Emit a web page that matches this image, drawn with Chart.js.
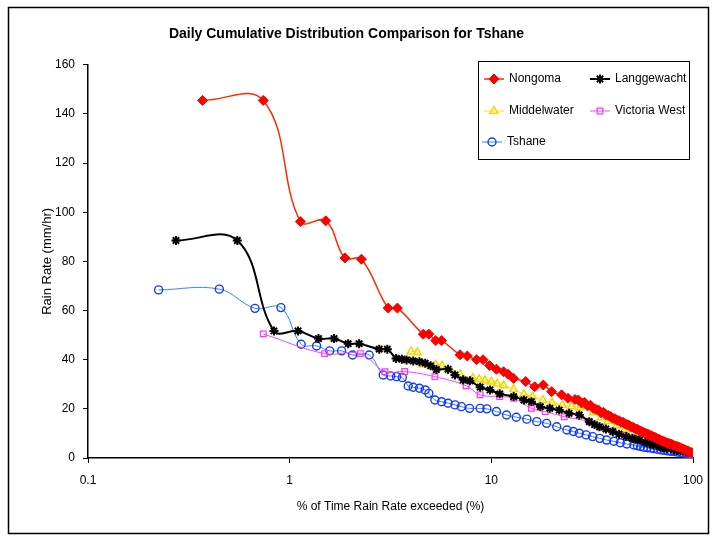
<!DOCTYPE html>
<html>
<head>
<meta charset="utf-8">
<script src="https://cdn.jsdelivr.net/npm/chart.js@4.4.1/dist/chart.umd.min.js"></script>
<style>
  html, body { margin: 0; padding: 0; background: #fff; }
</style>
</head>
<body>
<canvas id="grafik" width="717" height="539"></canvas>
<script>
// values (% of time exceeded, rain rate mm/hr)
const nongomaX = [0.37, 0.74, 1.13, 1.51, 1.88, 2.27, 3.08, 3.42, 4.6, 4.9, 5.3, 5.67, 7.0, 7.6, 8.45, 9.1, 9.8, 10.6, 11.5, 12.1, 12.9, 14.8, 16.4, 18.1, 19.9, 22.3, 24, 26, 27, 28, 29, 30, 31, 32, 33, 34, 35, 36, 37, 38, 39, 40, 41, 42, 43, 44, 45, 46, 47, 48, 49, 50, 51, 52, 53, 54, 55, 56, 57, 58, 59, 60, 61, 62, 63, 64, 65, 66, 67, 68, 69, 70, 71, 72, 73, 74, 75, 76, 77, 78, 79, 80, 82, 84, 86, 88, 90, 92, 94, 96, 98, 100];
const nongomaY = [145.5, 145.5, 96.2, 96.5, 81.4, 80.9, 61, 61, 50.4, 50.4, 47.8, 47.8, 42, 41.5, 40, 40, 37.6, 36.1, 35.1, 34.1, 32.4, 31.1, 29, 29.7, 27, 25.7, 24.3, 23.8, 23.6, 22.4, 22.6, 21.2, 21.5, 20.2, 19.8, 19.5, 18.4, 18.6, 17.6, 17.3, 16.9, 16.2, 16.0, 15.4, 15.2, 14.6, 14.5, 13.9, 13.6, 13.4, 12.8, 12.6, 12.3, 11.8, 11.7, 11.2, 11.0, 10.6, 10.4, 10.1, 9.8, 9.6, 9.3, 9.1, 8.8, 8.5, 8.3, 8.0, 7.7, 7.5, 7.2, 7.0, 6.8, 6.6, 6.4, 6.2, 6.0, 5.9, 5.7, 5.6, 5.4, 5.2, 4.9, 4.6, 4.3, 3.9, 3.6, 3.2, 2.9, 2.5, 2.2, 1.8];

const langX = [0.273, 0.55, 0.836, 1.10, 1.39, 1.66, 1.95, 2.21, 2.78, 3.05, 3.37, 3.6, 3.8, 4.1, 4.4, 4.7, 5.0, 5.34, 6.1, 6.6, 7.25, 7.83, 8.8, 9.84, 11.0, 12.9, 14.5, 15.8, 17.5, 19.5, 21.7, 24.3, 27.3, 30.6, 32.5, 34.4, 37, 40, 43, 46.6, 50, 52, 54.4, 58, 61, 63.5, 68, 71, 74, 80, 83, 86.6, 92, 97];
const langY = [88.5, 88.5, 51.7, 51.7, 48.6, 48.6, 46.5, 46.5, 44.3, 44.3, 40.5, 40.2, 39.9, 39.5, 39.2, 38.6, 37.5, 36, 36.1, 33.8, 31.8, 31.4, 28.8, 27.7, 26.1, 25, 23.6, 22.9, 20.9, 20.2, 19.5, 18.2, 17.5, 14.8, 13.6, 12.7, 11.8, 10.7, 9.7, 8.7, 8, 7.6, 7.3, 6.4, 5.8, 5.3, 4.6, 4.2, 3.9, 3.4, 3.1, 3, 2.5, 2.2];

const middelX = [4.0, 4.3, 4.6, 5.3, 5.7, 6.3, 7.0, 8.1, 8.7, 9.3, 10, 10.7, 11.5, 12.9, 14.5, 16, 18, 20, 22.5, 25, 27.5, 29.6, 32, 35, 38, 42, 46, 50, 55, 60, 66, 72, 78, 84, 90, 96, 99];
const middelY = [43.3, 42.9, 38, 37.9, 37.5, 35.5, 34, 32.5, 32, 31.5, 31, 30.2, 29.5, 28, 26, 25, 23.5, 22.5, 21.5, 21, 20.5, 21.2, 18.5, 16.5, 15, 13.2, 11.8, 10.5, 9.2, 8, 6.7, 5.6, 4.6, 3.7, 3, 2.4, 2];

const victoriaX = [0.74, 1.49, 2.24, 2.97, 3.72, 5.25, 7.5, 8.8, 11, 12.9, 15.8, 18.5, 23, 30.6, 35, 40, 46, 52, 60, 68, 76, 85, 93, 99];
const victoriaY = [50.5, 42.5, 42.5, 35.1, 35.2, 33.1, 29.4, 25.7, 25, 24.3, 20.2, 18.9, 16.8, 14.8, 12.5, 11, 9.3, 7.8, 6.3, 5, 4, 3, 2.2, 1.5];

const tshaneX = [0.224, 0.448, 0.673, 0.905, 1.14, 1.36, 1.58, 1.81, 2.05, 2.48, 2.91, 3.17, 3.39, 3.62, 3.87, 4.1, 4.4, 4.7, 4.9, 5.25, 5.67, 6.1, 6.6, 7.1, 7.8, 8.8, 9.5, 10.6, 11.9, 13.3, 15, 16.8, 18.8, 21.1, 23.7, 25.5, 27.3, 29.5, 31.8, 34.5, 37.3, 40.5, 43.6, 47, 50.9, 53, 55, 57, 59.4, 62, 64, 67, 69.4, 72, 75, 78, 80.9, 84, 88, 92, 95.7];
const tshaneY = [68.4, 68.7, 60.9, 61.2, 46.3, 45.6, 43.6, 43.6, 41.9, 41.9, 33.8, 33.4, 33.1, 32.7, 29.3, 28.8, 28.4, 27.7, 26.3, 23.6, 22.9, 22.3, 21.6, 20.9, 20.2, 20.2, 20, 18.9, 17.5, 16.6, 15.8, 14.8, 14.1, 12.7, 11.4, 10.8, 10.1, 9.4, 8.7, 8, 7.3, 6.8, 6.2, 5.7, 5.3, 5.0, 4.7, 4.4, 4.2, 4.0, 3.8, 3.5, 3.3, 3.1, 2.9, 2.7, 2.6, 2.4, 2.1, 1.9, 1.6];

const xTickVals = [0.1, 1, 10, 100];

const pts = (xs, ys) => xs.map((x, i) => ({ x: x, y: ys[i] }));

const FONT = "'Liberation Sans', Arial, sans-serif";
Chart.defaults.font.family = FONT;
Chart.defaults.color = "#000";

// outer frame + legend box drawn by hand
const frame = {
  id: "frame",
  beforeDraw(chart) {
    const ctx = chart.ctx;
    ctx.save();
    ctx.fillStyle = "#fff";
    ctx.fillRect(0, 0, chart.width, chart.height);
    ctx.strokeStyle = "#000";
    ctx.lineWidth = 1.5;
    ctx.strokeRect(8.5, 7.5, 700, 526);
    ctx.restore();
  },
};

const legendBox = {
  id: "legendBox",
  afterDraw(chart) {
    const ctx = chart.ctx;
    ctx.save();
    ctx.fillStyle = "#fff";
    ctx.fillRect(478.5, 61.5, 211, 98);
    ctx.strokeStyle = "#000";
    ctx.lineWidth = 1;
    ctx.strokeRect(478.5, 61.5, 211, 98);
    const spots = [[484, 79], [590, 79], [484, 111], [590, 111], [482, 142]];
    chart.data.datasets.forEach((ds, i) => {
      const [x, y] = spots[i];
      ctx.strokeStyle = ds.borderColor;
      ctx.lineWidth = ds.borderWidth;
      ctx.beginPath();
      ctx.moveTo(x, y);
      ctx.lineTo(x + 20, y);
      ctx.stroke();
      ctx.fillStyle = ds.pointBackgroundColor;
      ctx.strokeStyle = ds.pointBorderColor;
      ctx.lineWidth = ds.pointBorderWidth;
      if (Chart.helpers && Chart.helpers.drawPoint) {
        Chart.helpers.drawPoint(ctx, { pointStyle: ds.pointStyle, radius: ds.pointRadius, borderWidth: ds.pointBorderWidth, rotation: 0 }, x + 10, y);
      }
      ctx.fillStyle = "#000";
      ctx.font = "12px " + FONT;
      ctx.textBaseline = "middle";
      ctx.textAlign = "left";
      ctx.fillText(ds.label, x + 25, y);
    });
    ctx.restore();
  },
};

const chart = document.getElementById("grafik");

new Chart(chart, {
  type: "line",
  data: {
    datasets: [
      {
        label: "Nongoma",
        data: pts(nongomaX, nongomaY),
        borderColor: "#ff2a00",
        borderWidth: 1.5,
        pointStyle: "rectRot",
        pointRadius: 5,
        pointBorderWidth: 1,
        pointBackgroundColor: "#ff0000",
        pointBorderColor: "#ff0000",
        tension: 0.4,
      },
      {
        label: "Langgewacht",
        data: pts(langX, langY),
        borderColor: "#000000",
        borderWidth: 2,
        pointStyle: "star",
        pointRadius: 4.5,
        pointBorderWidth: 2,
        pointBackgroundColor: "#000000",
        pointBorderColor: "#000000",
        tension: 0.4,
      },
      {
        label: "Middelwater",
        data: pts(middelX, middelY),
        borderColor: "#f2e600",
        borderWidth: 1,
        pointStyle: "triangle",
        pointRadius: 4.5,
        pointBorderWidth: 1.5,
        pointBackgroundColor: "rgba(255,255,255,0)",
        pointBorderColor: "#f0d800",
        tension: 0.4,
      },
      {
        label: "Victoria West",
        data: pts(victoriaX, victoriaY),
        borderColor: "#ff40ff",
        borderWidth: 1,
        pointStyle: "rect",
        pointRadius: 4,
        pointBorderWidth: 1.2,
        pointBackgroundColor: "rgba(255,255,255,0)",
        pointBorderColor: "#ff33ff",
        tension: 0.4,
      },
      {
        label: "Tshane",
        data: pts(tshaneX, tshaneY),
        borderColor: "#2f86ff",
        borderWidth: 1,
        pointStyle: "circle",
        pointRadius: 4,
        pointBorderWidth: 1.4,
        pointBackgroundColor: "rgba(255,255,255,0)",
        pointBorderColor: "#1438ff",
        tension: 0.4,
      },
    ],
  },
  options: {
    responsive: false,
    animation: false,
    devicePixelRatio: 1,
    layout: { padding: { left: 0, right: 24, top: 0, bottom: 0 } },
    plugins: {
      legend: { display: false },
      tooltip: { enabled: false },
      title: {
        display: true,
        text: "Daily Cumulative Distribution Comparison for Tshane",
        font: { size: 14, weight: "bold", family: FONT },
        color: "#000",
        padding: { top: 26, bottom: 22 },
      },
    },
    scales: {
      x: {
        type: "logarithmic",
        min: 0.1,
        max: 100,
        afterBuildTicks: (axis) => {
          axis.ticks = xTickVals.map((v) => ({ value: v }));
        },
        afterFit: (axis) => {
          axis.height = 81;
        },
        ticks: {
          autoSkip: false,
          maxRotation: 0,
          padding: 10,
          font: { size: 12 },
          callback: (v) => String(v),
        },
        grid: { drawOnChartArea: false, drawTicks: true, tickLength: 5, color: "#000" },
        border: { color: "#000", width: 1.5 },
        title: {
          display: true,
          text: "% of Time Rain Rate exceeded (%)",
          font: { size: 12 },
          padding: { top: 25, bottom: 25 },
        },
      },
      y: {
        min: 0,
        max: 160,
        afterFit: (axis) => {
          axis.width = 88;
        },
        ticks: { stepSize: 20, padding: 8, font: { size: 12 } },
        grid: { drawOnChartArea: false, drawTicks: true, tickLength: 5, color: "#000" },
        border: { color: "#000", width: 1.5 },
        title: {
          display: true,
          text: "Rain Rate (mm/hr)",
          font: { size: 13 },
          padding: { top: 40, bottom: 0 },
        },
      },
    },
  },
  plugins: [frame, legendBox],
});
</script>
</body>
</html>
